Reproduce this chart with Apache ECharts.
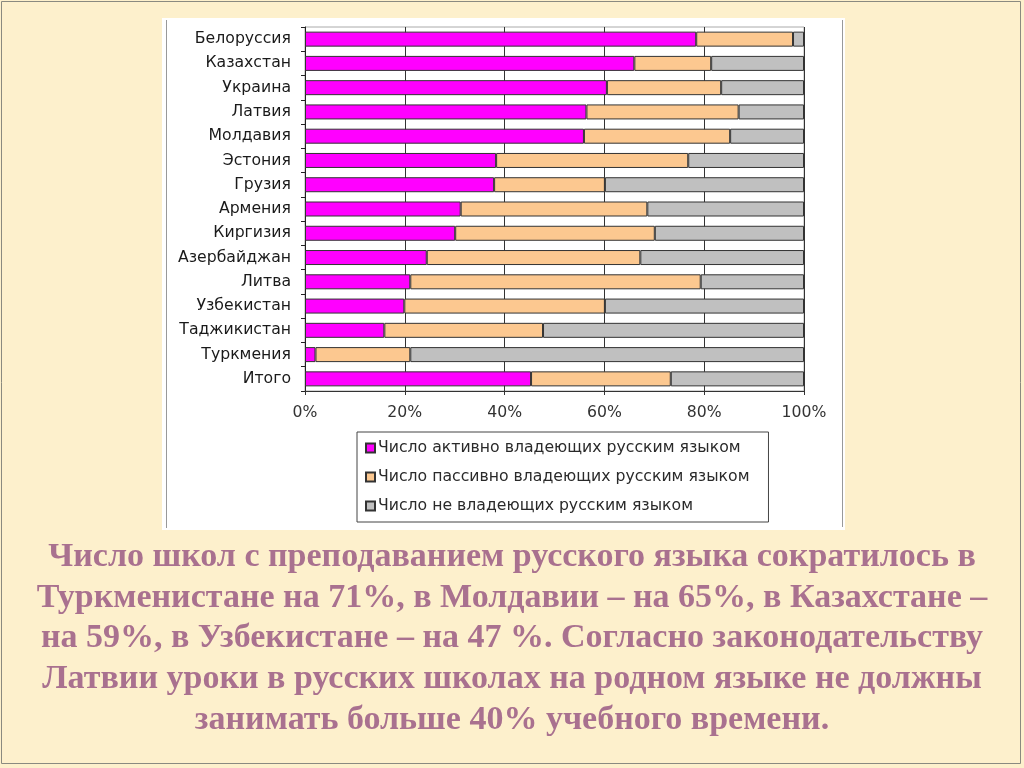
<!DOCTYPE html>
<html>
<head>
<meta charset="utf-8">
<script src="https://cdn.jsdelivr.net/npm/echarts@6/dist/echarts.min.js"></script>
<style>
html,body{margin:0;padding:0;background:#fdf0cc;}
#c{width:1024px;height:768px;}
</style>
</head>
<body>
<div id="c"></div>
<script>
const categories = ['Белоруссия','Казахстан','Украина','Латвия','Молдавия','Эстония','Грузия','Армения','Киргизия','Азербайджан','Литва','Узбекистан','Таджикистан','Туркмения','Итого'];
const seriesNames = ['Число активно владеющих русским языком','Число пассивно владеющих русским языком','Число не владеющих русским языком'];
const activeVals  = [78.4, 66.0, 60.5, 56.4, 55.9, 38.3, 37.9, 31.2, 30.1, 24.4, 21.1, 19.9, 15.9, 2.1, 45.3];
const passiveVals = [19.4, 15.4, 22.9, 30.5, 29.3, 38.5, 22.2, 37.4, 40.0, 42.8, 58.2, 40.2, 31.8, 19.0, 28.0];
const noneVals    = [2.2, 18.6, 16.6, 13.1, 14.8, 23.2, 39.9, 31.4, 29.9, 32.8, 20.7, 39.9, 52.3, 78.9, 26.7];
const xTicks = [0, 20, 40, 60, 80, 100];
const captionLines = [
  'Число школ с преподаванием русского языка сократилось в',
  'Туркменистане на 71%, в Молдавии – на 65%, в Казахстане –',
  'на 59%, в Узбекистане – на 47 %. Согласно законодательству',
  'Латвии уроки в русских школах на родном языке не должны',
  'занимать больше 40% учебного времени.'
];

const chart = echarts.init(document.getElementById('c'));
const labelFont = 'DejaVu Sans';
const colors = ['#ff00ff', '#fcc890', '#c0c0c0'];
const vals = [activeVals, passiveVals, noneVals];

const graphicEls = [
  {type:'rect', z:-10, shape:{x:1.5,y:1.5,width:1019,height:762}, style:{fill:'#fdf0cc', stroke:'#8a8a80', lineWidth:1}},
  {type:'rect', z:-9, shape:{x:162,y:18,width:683,height:512}, style:{fill:'#ffffff'}},
  {type:'line', z:-8, shape:{x1:166.5,y1:20,x2:166.5,y2:528}, style:{stroke:'#999', lineWidth:1}},
  {type:'line', z:-8, shape:{x1:842.5,y1:20,x2:842.5,y2:527}, style:{stroke:'#999', lineWidth:1}}
];
captionLines.forEach(function(t, i){
  graphicEls.push({
    type:'text', z:5, x:512, y:557 + i*40.8,
    style:{text:t, fill:'#a9718f', font:'bold 34px "Liberation Serif"', textAlign:'center', textVerticalAlign:'middle'}
  });
});

chart.setOption({
  backgroundColor:'#fdf0cc',
  animation:false,
  graphic:{elements:graphicEls},
  grid:{left:305, right:220, top:27, bottom:377, show:true, borderColor:'#aaa', borderWidth:1, backgroundColor:'transparent'},
  legend:{
    orient:'vertical', left:357, top:432,
    padding:[8,19,8,8],
    itemWidth:9, itemHeight:9, itemGap:13,
    borderColor:'#444', borderWidth:1,
    backgroundColor:'#fff',
    icon:'rect',
    textStyle:{fontFamily:labelFont, fontSize:15.7, color:'#2a2a2a', lineHeight:16, padding:[0,0,0,-2]},
    data:seriesNames
  },
  xAxis:{
    type:'value', min:xTicks[0], max:xTicks[xTicks.length-1], interval:20,
    axisLine:{show:true, lineStyle:{color:'#333'}},
    axisTick:{show:true, length:4, lineStyle:{color:'#333'}},
    splitLine:{show:true, lineStyle:{color:'#333', width:1}},
    axisLabel:{formatter:'{value}%', fontFamily:labelFont, fontSize:15.7, color:'#333', margin:14}
  },
  yAxis:{
    type:'category', inverse:true, data:categories,
    axisLine:{show:true, lineStyle:{color:'#222'}},
    axisTick:{show:true, length:4, lineStyle:{color:'#222'}},
    axisLabel:{fontFamily:labelFont, fontSize:15.7, color:'#1a1a1a', margin:14}
  },
  series: vals.map(function(v, i){
    return {
      name:seriesNames[i], type:'bar', stack:'total', data:v, barWidth:15,
      itemStyle:{color:colors[i], borderColor:'#333', borderWidth:1}
    };
  })
});
</script>
</body>
</html>
